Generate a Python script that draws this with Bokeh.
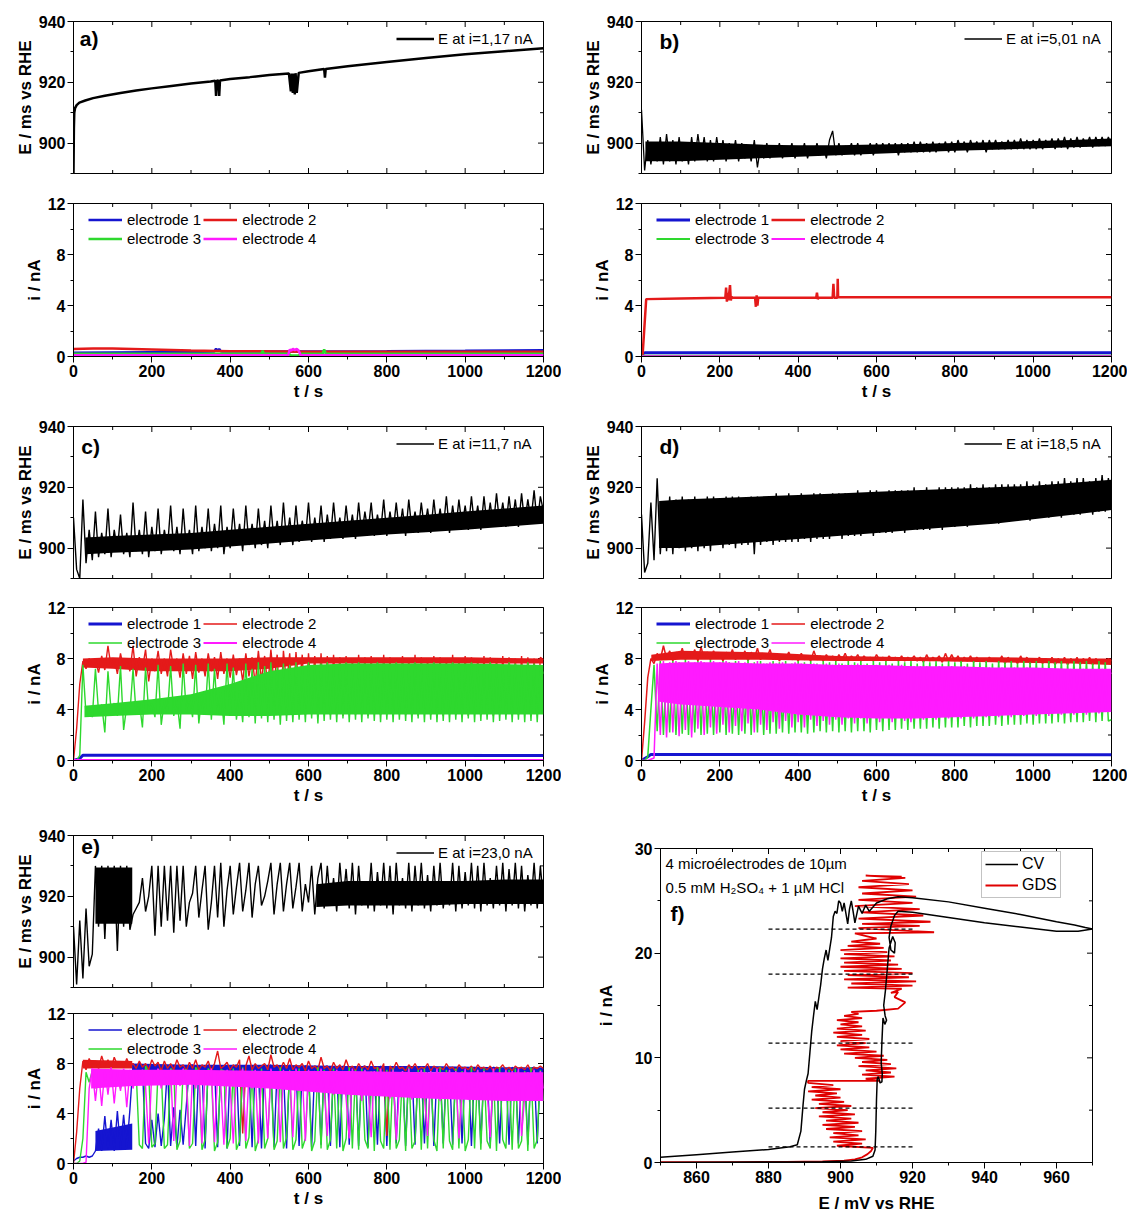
from math import pi
from bokeh.plotting import figure
from bokeh.models import Range1d, SingleIntervalTicker, Legend, LegendItem, Label
from bokeh.layouts import column, row
from bokeh.core.properties import value
from bokeh.embed import file_html
from bokeh.resources import INLINE

FONT = "Liberation Sans"
BLUE, RED, GREEN, MAG = "#1515d0", "#e41a1a", "#2ed82e", "#ff1aff"

# ---------------- data ----------------
t_grid = list(range(0, 1201, 8))  # sampling times (s) of the dense traces

a_t = [0, 1, 2, 4, 8, 15, 30, 50, 80, 120, 160, 200, 250, 300, 350, 362, 364, 366, 370, 372, 374, 378,
       400, 450, 500, 550, 555, 557, 560, 562, 565, 567, 570, 575, 600, 640, 642, 644, 700, 800, 900,
       1000, 1100, 1200]
a_E = [890, 905, 910, 911.5, 912.5, 913.3, 914, 914.8, 915.6, 916.5, 917.3, 918, 918.8, 919.6, 920.3,
       920.5, 915.5, 920.5, 920.6, 915.5, 920.6, 920.7, 921.1, 921.7, 922.4, 922.9, 917, 922.9, 916.5,
       922.9, 916, 923, 916.5, 923.1, 923.6, 924.4, 921.5, 924.4, 925.3, 926.7, 928, 929.2, 930.2, 931.2]
a_red_t = [0, 50, 100, 200, 300, 400, 600, 800, 1000, 1200]
a_red = [0.58, 0.62, 0.62, 0.55, 0.48, 0.42, 0.38, 0.38, 0.38, 0.38]
a_blue_t = [0, 100, 300, 360, 364, 368, 372, 376, 380, 500, 800, 1000, 1200]
a_blue = [0.3, 0.32, 0.35, 0.4, 0.62, 0.42, 0.6, 0.42, 0.4, 0.4, 0.42, 0.45, 0.5]
a_green_t = [0, 480, 483, 486, 550, 555, 575, 580, 636, 640, 644, 1200]
a_green = [0.22, 0.22, 0.45, 0.22, 0.22, 0.08, 0.08, 0.22, 0.22, 0.55, 0.22, 0.22]
a_mag_t = [0, 548, 552, 556, 560, 565, 570, 575, 580, 1200]
a_mag = [0.1, 0.1, 0.55, 0.45, 0.6, 0.5, 0.6, 0.45, 0.1, 0.1]

b_E = [911, 891, 901, 893, 900, 894, 902, 893, 903, 894,
       901, 893, 902, 894, 900, 893, 902, 894, 903, 895,
       902, 894, 901, 894, 902, 895, 901, 894, 900, 895,
       901, 894, 900, 895, 899, 894, 901, 892, 899, 895,
       900, 895, 899, 896, 900, 895, 899, 896, 900, 895,
       899, 896, 900, 895, 899, 896, 900, 896, 899, 895,
       901, 904, 896, 900, 896, 899, 897, 900, 896, 900,
       896, 899, 897, 900, 896, 900, 897, 900, 897, 900,
       897, 900, 896, 900, 897, 900, 897, 900.5, 897, 900.5,
       897, 900, 897, 900.5, 897, 900, 898, 900.5, 897, 900.5,
       897, 901, 898, 900.5, 897, 901, 898, 900.5, 898, 901,
       897, 901, 898, 901, 898, 900.5, 898, 901, 898, 901,
       898, 901.5, 898, 901, 898, 901, 898, 901.5, 898, 901,
       898.5, 901.5, 898, 901.5, 898.5, 902, 898, 901.5, 898.5, 902,
       898.5, 901.5, 899, 902, 898.5, 902, 899, 902, 899, 902,
       899.5]
# dense core of the E band (read as lower / upper edge of the solid black region)
b_core_t = [10, 100, 200, 300, 400, 500, 600, 700, 800, 900, 1000, 1100, 1200]
b_core_lo = [894, 894, 894.5, 895, 895.5, 896, 896.5, 897, 897.5, 897.8, 898.2, 898.6, 899]
b_core_hi = [900.5, 900.5, 900, 899.5, 899.3, 899.3, 899.5, 899.7, 900, 900.3, 900.7, 901, 901.5]
b_red_t = [0, 3, 12, 100, 214, 216, 218, 220, 222, 226, 228, 230, 232, 290, 292, 294, 296, 298, 446, 448,
           450, 452, 488, 490, 492, 500, 501, 502, 600, 1200]
b_red = [0, 0.2, 4.5, 4.55, 4.6, 5.4, 4.3, 5.0, 4.4, 5.6, 4.4, 4.7, 4.6, 4.6, 3.9, 4.8, 4.0, 4.6, 4.6, 5.0,
         4.5, 4.6, 4.6, 5.7, 4.6, 4.6, 6.1, 4.65, 4.65, 4.65]
b_blue_t = [0, 10, 1200]
b_blue = [0.2, 0.3, 0.3]
b_green_t = [0, 1200]
b_green = [0.05, 0.05]
b_mag_t = [0, 1200]
b_mag = [0.02, 0.02]

c_E = [910, 893, 890, 916, 895, 906, 896, 912, 897, 905,
       898, 913, 897, 906, 899, 911, 898, 905, 897, 915,
       899, 906, 898, 912, 897, 907, 899, 913, 898, 906,
       900, 914, 899, 907, 898, 913, 900, 906, 898, 914,
       899, 907, 900, 913, 899, 908, 900, 914, 898, 907,
       900, 913, 901, 908, 899, 914, 901, 908, 900, 913,
       901, 909, 900, 914, 902, 909, 901, 915, 902, 910,
       901, 914, 902, 909, 903, 915, 902, 910, 903, 914,
       902, 911, 903, 915, 904, 910, 903, 914, 904, 911,
       903, 915, 904, 912, 905, 915, 904, 911, 905, 916,
       904, 912, 905, 915, 905, 913, 904, 916, 906, 912,
       905, 915, 906, 913, 905, 916, 906, 913, 906, 917,
       905, 914, 906, 916, 907, 914, 906, 917, 907, 914,
       906, 917, 907, 915, 907, 918, 908, 915, 907, 917,
       908, 916, 907, 918, 908, 916, 909, 919, 908, 917,
       912]
c_core_t = [30, 100, 200, 300, 400, 500, 600, 700, 800, 900, 1000, 1100, 1200]
c_core_lo = [898, 898.5, 899, 899.5, 900.5, 901.5, 902.5, 903.5, 904.5, 905.2, 906, 907, 908]
c_core_hi = [903.5, 904, 904.5, 905, 906, 907, 908, 909, 910, 911, 912, 913, 914]
c_red = [0, 2.5, 6, 7.8, 7.2, 8.0, 7.4, 7.9, 6.9, 8.2,
         7.1, 9.0, 7.3, 8.0, 6.8, 8.4, 7.2, 8.0, 7.0, 9.0,
         6.6, 8.1, 7.2, 8.7, 6.2, 8.0, 7.0, 8.6, 6.8, 8.0,
         6.6, 8.7, 7.1, 8.0, 6.5, 8.4, 6.8, 8.2, 6.4, 8.5,
         6.9, 8.0, 6.6, 8.4, 7.0, 8.1, 6.4, 8.5, 6.8, 8.0,
         6.5, 8.3, 6.7, 8.0, 6.2, 8.4, 6.6, 8.1, 6.0, 8.6,
         6.3, 8.2, 5.8, 8.7, 6.1, 8.3, 3.6, 8.6, 6.0, 8.4,
         3.8, 8.5, 5.5, 8.3, 3.6, 8.4, 5.0, 8.2, 3.5, 8.4,
         4.0, 8.2, 3.6, 8.3, 4.5, 8.1, 3.5, 8.2, 3.8, 8.0,
         3.6, 8.3, 4.2, 8.1, 3.5, 8.2, 3.8, 8.0, 3.6, 8.3,
         3.9, 8.1, 3.5, 8.0, 3.7, 8.2, 3.6, 8.0, 3.9, 8.3,
         3.5, 8.1, 3.8, 8.0, 3.6, 8.2, 4.0, 8.1, 3.5, 8.0,
         3.7, 8.3, 3.6, 8.0, 3.9, 8.2, 3.5, 8.1, 3.8, 8.0,
         3.6, 8.2, 3.7, 8.1, 3.5, 8.0, 3.9, 8.2, 3.6, 8.1,
         3.8, 8.0, 3.6, 8.2, 3.7, 8.1, 3.5, 8.0, 3.8, 8.1,
         7.9]
c_red_core_t = [24, 100, 200, 300, 400, 500, 600, 800, 1000, 1200]
c_red_core_lo = [7.3, 7.2, 7.0, 7.0, 7.0, 7.2, 7.6, 7.6, 7.6, 7.6]
c_red_core_hi = [8.0, 8.1, 8.0, 8.0, 8.0, 8.1, 8.1, 8.1, 8.1, 8.0]
c_green = [0, 0, 0.4, 7.5, 3.6, 4.2, 3.4, 7.2, 3.8, 4.4,
           2.2, 7.0, 3.9, 4.5, 3.5, 7.4, 2.4, 4.3, 3.7, 7.2,
           3.6, 4.6, 2.6, 7.3, 3.8, 4.5, 3.4, 7.5, 2.8, 4.7,
           3.8, 7.4, 3.5, 4.8, 2.5, 7.6, 3.8, 5.0, 3.4, 7.5,
           2.9, 5.2, 3.6, 7.6, 3.2, 7.2, 3.6, 5.4, 2.8, 7.6,
           3.5, 7.3, 3.2, 5.5, 3.0, 7.6, 3.4, 7.2, 2.9, 7.7,
           3.3, 7.4, 3.0, 7.7, 3.2, 7.3, 2.8, 7.6, 3.1, 7.5,
           3.0, 7.7, 3.2, 7.4, 3.0, 7.7, 3.3, 7.5, 2.9, 7.6,
           3.1, 7.7, 3.2, 7.5, 3.0, 7.6, 3.3, 7.7, 3.0, 7.5,
           3.2, 7.7, 3.0, 7.6, 3.3, 7.5, 3.1, 7.7, 3.0, 7.6,
           3.2, 7.5, 3.0, 7.7, 3.2, 7.6, 3.1, 7.5, 3.0, 7.7,
           3.3, 7.6, 3.0, 7.5, 3.2, 7.7, 3.0, 7.6, 3.1, 7.5,
           3.0, 7.7, 3.2, 7.6, 3.0, 7.5, 3.3, 7.7, 3.0, 7.6,
           3.1, 7.5, 3.2, 7.7, 3.0, 7.6, 3.1, 7.5, 3.2, 7.7,
           3.0, 7.6, 3.2, 7.5, 3.0, 7.7, 3.1, 7.6, 3.0, 7.5,
           6.8]
c_green_core_t = [28, 100, 200, 300, 400, 500, 600, 700, 800, 1000, 1200]
c_green_core_lo = [3.4, 3.5, 3.6, 3.6, 3.5, 3.5, 3.6, 3.6, 3.6, 3.6, 3.6]
c_green_core_hi = [4.3, 4.5, 4.8, 5.2, 6.0, 7.0, 7.5, 7.6, 7.6, 7.6, 7.5]
c_blue_t = [0, 16, 24, 1200]
c_blue = [0, 0.15, 0.42, 0.4]
c_mag_t = [0, 1200]
c_mag = [0.03, 0.03]

d_E = [911, 892, 895, 915, 896, 923, 898, 915, 899, 917,
       898, 916, 900, 917, 899, 916, 900, 917, 899, 916,
       900, 917, 899, 917, 901, 916, 900, 917, 901, 917,
       900, 917, 901, 916, 901, 917, 898, 917, 901, 916,
       902, 917, 901, 918, 902, 917, 902, 918, 902, 917,
       902, 918, 903, 917, 902, 918, 903, 918, 903, 917,
       903, 918, 904, 918, 903, 918, 904, 918, 904, 919,
       904, 918, 905, 919, 904, 919, 905, 918, 905, 919,
       905, 919, 906, 919, 905, 919, 906, 920, 906, 919,
       906, 920, 906, 919, 907, 920, 906, 920, 907, 920,
       907, 920, 908, 920, 907, 921, 908, 920, 908, 921,
       908, 920, 909, 921, 908, 921, 909, 921, 909, 921,
       909, 921, 910, 922, 909, 921, 910, 922, 910, 921,
       910, 922, 911, 922, 910, 923, 911, 922, 911, 923,
       911, 923, 912, 922, 911, 923, 912, 924, 912, 923,
       914]
d_core_t = [45, 100, 200, 300, 400, 500, 600, 700, 800, 900, 1000, 1100, 1200]
d_core_lo = [900, 900, 901, 902, 903, 904, 905, 906, 907, 908, 909.5, 911, 912.5]
d_core_hi = [915.5, 916, 916.5, 917, 917.5, 918, 918.5, 919, 919.5, 920, 920.5, 921.5, 922.5]
d_red = [0, 3.0, 6.5, 8.0, 7.6, 8.4, 7.9, 9.0, 8.0, 8.6,
         7.8, 8.5, 8.0, 8.8, 7.9, 8.4, 8.1, 8.7, 7.8, 8.9,
         8.0, 8.5, 7.9, 8.6, 8.0, 8.4, 7.8, 8.5, 8.0, 8.7,
         7.9, 8.4, 8.0, 8.6, 7.8, 8.5, 8.0, 8.8, 7.9, 8.4,
         8.0, 8.7, 7.9, 8.4, 7.8, 8.3, 8.0, 8.5, 7.9, 8.3,
         7.8, 8.4, 7.9, 8.2, 7.8, 8.6, 7.9, 8.2, 7.8, 8.3,
         7.9, 8.2, 7.8, 8.3, 7.9, 8.4, 7.8, 8.2, 7.9, 8.3,
         7.8, 8.2, 7.9, 8.1, 7.8, 8.3, 7.9, 8.1, 7.8, 8.2,
         7.9, 8.1, 7.8, 8.2, 7.8, 8.1, 7.9, 8.2, 7.8, 8.1,
         7.7, 8.3, 7.8, 8.1, 7.9, 8.2, 7.7, 8.4, 7.8, 8.3,
         7.8, 8.2, 7.7, 8.1, 7.8, 8.2, 7.7, 8.1, 7.8, 8.0,
         7.7, 8.1, 7.8, 8.0, 7.7, 8.2, 7.6, 8.1, 7.7, 8.0,
         7.6, 8.2, 7.7, 8.1, 7.6, 8.0, 7.7, 8.1, 7.6, 8.0,
         7.6, 8.1, 7.5, 8.0, 7.6, 8.1, 7.5, 8.0, 7.6, 8.1,
         7.5, 8.0, 7.6, 8.1, 7.5, 8.0, 7.6, 7.9, 7.5, 8.0,
         7.8]
d_red_core_t = [25, 100, 300, 500, 700, 900, 1100, 1200]
d_red_core_lo = [7.8, 7.9, 7.9, 7.8, 7.8, 7.7, 7.6, 7.5]
d_red_core_hi = [8.3, 8.6, 8.5, 8.2, 8.1, 8.1, 8.0, 8.0]
d_green = [0, 0, 0.3, 4.0, 7.5, 2.3, 7.8, 2.0, 7.6, 2.2,
           7.8, 2.0, 7.7, 2.1, 7.9, 2.0, 7.6, 2.2, 7.8, 2.0,
           7.7, 2.1, 7.9, 2.0, 7.6, 2.2, 7.8, 2.0, 7.7, 2.1,
           7.8, 2.0, 7.6, 2.1, 7.9, 2.0, 7.7, 2.2, 7.8, 2.0,
           7.6, 2.1, 7.8, 2.1, 7.7, 2.2, 7.8, 2.1, 7.6, 2.2,
           7.8, 2.2, 7.7, 2.1, 7.8, 2.2, 7.6, 2.3, 7.8, 2.2,
           7.7, 2.3, 7.8, 2.2, 7.6, 2.3, 7.8, 2.2, 7.7, 2.3,
           7.8, 2.3, 7.6, 2.2, 7.8, 2.4, 7.7, 2.3, 7.8, 2.4,
           7.6, 2.4, 7.8, 2.5, 7.7, 2.4, 7.8, 2.5, 7.6, 2.5,
           7.8, 2.5, 7.7, 2.6, 7.8, 2.5, 7.6, 2.6, 7.8, 2.6,
           7.7, 2.6, 7.8, 2.7, 7.6, 2.6, 7.8, 2.7, 7.7, 2.7,
           7.8, 2.7, 7.6, 2.8, 7.8, 2.7, 7.7, 2.8, 7.8, 2.8,
           7.6, 2.8, 7.8, 2.9, 7.7, 2.8, 7.8, 2.9, 7.6, 2.9,
           7.8, 2.9, 7.7, 3.0, 7.8, 2.9, 7.6, 3.0, 7.8, 3.0,
           7.7, 3.0, 7.8, 3.1, 7.6, 3.0, 7.8, 3.1, 7.7, 3.1,
           3.2]
d_mag = [0, 0, 0, 0.1, 0.2, 7.6, 2.0, 7.8, 1.8, 7.7,
         2.2, 7.8, 1.9, 7.6, 2.4, 7.8, 1.8, 7.7, 2.5, 7.8,
         2.0, 7.6, 2.6, 7.8, 2.1, 7.7, 2.8, 7.8, 2.2, 7.6,
         2.7, 7.8, 2.3, 7.7, 2.9, 7.6, 2.2, 7.8, 2.8, 7.6,
         2.4, 7.7, 3.0, 7.6, 2.5, 7.7, 3.1, 7.5, 2.6, 7.7,
         3.0, 7.6, 2.6, 7.5, 3.2, 7.6, 2.7, 7.5, 3.1, 7.6,
         2.8, 7.5, 3.2, 7.6, 2.8, 7.5, 3.3, 7.5, 2.9, 7.6,
         3.3, 7.5, 2.9, 7.4, 3.4, 7.5, 3.0, 7.4, 3.4, 7.5,
         3.0, 7.4, 3.5, 7.5, 3.1, 7.4, 3.0, 7.4, 3.5, 7.4,
         3.2, 7.4, 3.6, 7.3, 3.2, 7.4, 3.6, 7.3, 3.3, 7.4,
         3.6, 7.3, 3.3, 7.4, 3.7, 7.3, 3.3, 7.3, 3.7, 7.3,
         3.4, 7.3, 3.7, 7.2, 3.4, 7.3, 3.8, 7.2, 3.4, 7.3,
         3.8, 7.2, 3.5, 7.3, 3.8, 7.2, 3.5, 7.2, 3.9, 7.2,
         3.5, 7.2, 3.9, 7.2, 3.6, 7.1, 3.9, 7.2, 3.6, 7.1,
         4.0, 7.2, 3.6, 7.1, 4.0, 7.1, 3.7, 7.2, 4.0, 7.1,
         6.8]
d_mag_core_t = [45, 100, 200, 300, 400, 500, 600, 700, 800, 900, 1000, 1100, 1200]
d_mag_core_lo = [4.6, 4.4, 4.2, 4.0, 3.6, 3.4, 3.3, 3.3, 3.4, 3.5, 3.6, 3.7, 3.8]
d_mag_core_hi = [7.6, 7.7, 7.7, 7.6, 7.6, 7.5, 7.5, 7.4, 7.4, 7.3, 7.3, 7.2, 7.2]
d_blue_t = [0, 16, 24, 1200]
d_blue = [0, 0.3, 0.48, 0.45]

e_E = [910, 891, 912, 893, 916, 897, 901, 930, 910, 930,
       906, 930, 912, 930, 902, 930, 910, 930, 909, 914,
       916, 918, 926, 915, 920, 930, 907, 930, 910, 930,
       912, 930, 908, 930, 912, 930, 910, 918, 921, 930,
       913, 922, 930, 909, 918, 930, 913, 931, 910, 922,
       930, 914, 923, 931, 915, 922, 931, 913, 924, 930,
       917, 920, 925, 931, 914, 924, 931, 915, 924, 931,
       916, 923, 931, 915, 924, 918, 930, 914, 926, 931,
       916, 930, 917, 926, 915, 931, 918, 929, 916, 931,
       914, 930, 917, 925, 916, 931, 915, 928, 917, 931,
       916, 930, 914, 931, 917, 926, 916, 931, 915, 930,
       917, 931, 916, 927, 915, 930, 917, 931, 916, 925,
       917, 931, 915, 930, 916, 928, 917, 931, 916, 930,
       915, 931, 917, 926, 916, 930, 917, 931, 915, 929,
       917, 931, 916, 930, 915, 927, 917, 931, 916, 930,
       918]
e_core1_t = [56, 150]
e_core1_lo = [911, 911]
e_core1_hi = [929.5, 929.5]
e_core2_t = [620, 700, 800, 900, 1000, 1100, 1200]
e_core2_lo = [916.5, 917, 917, 917, 917.5, 917.5, 917.5]
e_core2_hi = [924, 925, 925, 925, 925, 925.5, 925.5]
e_blue = [0.2, 0.4, 0.5, 0.5, 0.6, 0.5, 0.6, 1.0, 2.8, 1.0,
          3.8, 1.1, 3.5, 1.0, 4.2, 1.1, 3.9, 1.2, 4.3, 8.0,
          7.6, 8.1, 7.7, 1.6, 1.2, 3.5, 1.3, 4.0, 1.4, 3.6,
          7.8, 1.4, 4.5, 1.3, 4.3, 1.5, 4.6, 7.8, 7.9, 1.4,
          7.8, 7.6, 1.2, 7.9, 7.7, 7.9, 1.3, 7.8, 7.6, 1.2,
          7.8, 7.7, 7.9, 1.4, 7.8, 7.6, 7.8, 1.3, 7.9, 7.7,
          1.2, 7.8, 7.6, 7.9, 1.3, 7.7, 7.8, 7.6, 1.2, 7.9,
          7.7, 7.8, 1.4, 7.6, 7.8, 7.7, 1.3, 7.8, 7.6, 1.5,
          7.7, 7.8, 1.4, 7.6, 7.7, 1.3, 7.8, 7.6, 1.5, 7.7,
          7.6, 1.4, 7.7, 7.8, 1.3, 7.6, 7.7, 1.5, 7.8, 7.6,
          1.4, 7.7, 7.6, 1.6, 7.7, 7.5, 1.4, 7.6, 7.7, 1.5,
          7.6, 7.5, 1.6, 7.7, 7.6, 1.4, 7.5, 7.7, 1.6, 7.6,
          7.5, 1.5, 7.6, 7.7, 1.6, 7.5, 7.6, 1.4, 7.7, 7.5,
          1.6, 7.6, 7.5, 1.5, 7.7, 7.6, 1.6, 7.5, 7.6, 1.5,
          7.7, 7.5, 1.6, 7.6, 7.5, 1.5, 7.6, 7.7, 1.6, 7.5,
          7.5]
e_blue_core1_t = [56, 150]
e_blue_core1_lo = [1.0, 1.1]
e_blue_core1_hi = [2.6, 3.2]
e_blue_core2_t = [150, 300, 500, 700, 900, 1100, 1200]
e_blue_core2_lo = [7.4, 7.4, 7.3, 7.3, 7.3, 7.2, 7.2]
e_blue_core2_hi = [8.0, 7.9, 7.9, 7.8, 7.8, 7.7, 7.7]
e_red = [0, 2.5, 6.0, 8.2, 7.5, 8.4, 7.8, 8.2, 7.6, 8.6,
         7.8, 8.3, 7.6, 8.5, 7.9, 8.1, 7.7, 8.4, 7.8, 8.0,
         7.6, 8.2, 7.7, 8.0, 7.5, 8.3, 7.8, 8.1, 7.4, 8.2,
         7.6, 8.0, 7.5, 8.3, 7.7, 7.9, 7.4, 8.1, 7.6, 8.3,
         7.5, 7.9, 7.7, 8.2, 7.4, 8.0, 9.0, 7.6, 7.8, 8.1,
         7.5, 7.9, 7.7, 8.3, 2.4, 7.8, 8.6, 7.5, 8.0, 7.6,
         7.8, 8.0, 7.5, 8.7, 7.7, 7.9, 7.5, 8.1, 7.6, 8.4,
         7.5, 7.9, 7.7, 8.0, 7.4, 8.2, 7.6, 7.8, 7.5, 8.5,
         7.6, 7.8, 7.4, 8.1, 7.6, 7.9, 7.5, 8.3, 7.6, 7.8,
         7.4, 8.0, 7.6, 7.8, 7.5, 8.2, 7.6, 7.7, 7.4, 8.0,
         2.2, 7.8, 7.5, 8.1, 7.6, 7.7, 7.4, 7.9, 7.6, 8.0,
         7.5, 7.7, 7.6, 8.0, 7.4, 7.8, 7.6, 7.7, 7.5, 8.0,
         7.6, 7.7, 7.4, 7.9, 7.6, 7.7, 7.5, 7.8, 7.4, 7.9,
         7.6, 7.7, 7.5, 7.8, 7.4, 7.7, 7.6, 7.9, 7.5, 7.7,
         7.4, 7.8, 7.6, 7.7, 7.5, 7.9, 7.4, 7.7, 7.6, 7.8,
         7.6]
e_red_core_t = [24, 150]
e_red_core_lo = [7.6, 7.6]
e_red_core_hi = [8.3, 8.2]
e_green = [0, 0, 0.2, 2.0, 7.3, 6.5, 7.4, 6.0, 7.5, 6.4,
           7.3, 6.2, 7.4, 6.6, 7.2, 6.0, 7.5, 6.3, 7.4, 6.8,
           7.3, 1.5, 1.2, 7.8, 7.2, 1.3, 1.6, 7.5, 7.4, 1.2,
           1.5, 7.6, 7.3, 1.1, 1.8, 7.4, 7.5, 1.2, 1.6, 7.7,
           7.3, 1.1, 1.9, 7.6, 7.2, 1.0, 1.7, 7.5, 7.4, 1.2,
           2.0, 7.6, 1.1, 1.8, 7.7, 1.2, 2.1, 7.5, 1.0, 1.9,
           7.6, 1.2, 2.0, 7.4, 1.1, 1.8, 7.7, 1.2, 2.1, 7.5,
           1.1, 1.9, 7.6, 1.2, 2.0, 7.4, 1.0, 1.8, 7.7, 1.2,
           7.5, 1.1, 1.9, 7.6, 1.2, 7.4, 1.0, 2.0, 7.7, 1.2,
           7.5, 1.1, 7.6, 1.9, 1.2, 7.4, 1.0, 7.7, 1.8, 1.2,
           7.5, 1.1, 7.6, 1.2, 1.9, 7.4, 1.0, 7.7, 1.2, 1.8,
           7.5, 1.1, 7.6, 1.2, 7.4, 1.9, 1.0, 7.7, 1.2, 7.5,
           1.8, 1.1, 7.6, 1.2, 7.4, 1.0, 1.9, 7.7, 1.2, 7.5,
           1.1, 7.6, 1.8, 1.2, 7.4, 1.0, 7.7, 1.9, 1.2, 7.5,
           1.1, 7.6, 1.2, 1.8, 7.4, 1.0, 7.7, 1.2, 1.9, 7.5,
           5.0]
e_mag = [0, 0, 0, 0, 0.1, 6.0, 7.6, 5.0, 7.4, 4.6,
         7.5, 5.5, 7.7, 4.8, 7.4, 5.8, 7.6, 4.5, 7.5, 6.0,
         7.3, 6.6, 7.5, 6.2, 1.6, 7.4, 6.5, 7.6, 6.0, 7.3,
         6.4, 7.5, 1.8, 7.4, 6.2, 7.6, 6.5, 1.4, 7.3, 6.0,
         7.5, 1.6, 7.4, 6.3, 7.6, 1.7, 7.3, 6.4, 1.5, 7.5,
         6.2, 1.6, 7.4, 6.5, 7.6, 1.8, 7.3, 6.0, 7.5, 1.6,
         7.4, 6.4, 2.0, 7.6, 6.2, 7.3, 1.7, 7.5, 6.1, 7.4,
         2.1, 7.6, 6.0, 7.3, 1.8, 7.5, 6.3, 7.4, 5.8, 7.6,
         6.0, 2.2, 7.3, 5.5, 7.5, 6.2, 7.4, 5.2, 2.0, 7.6,
         5.8, 7.3, 5.0, 7.5, 6.1, 2.1, 7.4, 5.4, 7.6, 5.9,
         7.3, 5.2, 7.5, 1.9, 6.0, 7.4, 5.5, 7.6, 5.1, 7.3,
         6.2, 7.5, 5.3, 2.2, 7.4, 5.8, 7.6, 5.0, 7.3, 6.0,
         7.5, 5.4, 7.4, 2.0, 5.7, 7.6, 5.1, 7.3, 6.1, 7.5,
         5.2, 7.4, 5.9, 2.1, 7.6, 5.3, 7.3, 6.0, 7.5, 5.0,
         7.4, 5.8, 7.6, 2.2, 5.4, 7.3, 6.2, 7.5, 5.1, 7.4,
         6.0]
e_mag_core_t = [45, 150, 300, 500, 700, 900, 1100, 1200]
e_mag_core_lo = [6.0, 6.2, 6.3, 6.0, 5.5, 5.2, 5.0, 5.0]
e_mag_core_hi = [7.6, 7.5, 7.5, 7.4, 7.4, 7.3, 7.3, 7.3]

cv_E = [850, 860, 870, 880, 886, 888, 889, 889.6, 890, 890.5,
        891, 891.5, 892, 892.5, 893, 893.5, 894, 894.5, 895, 895.5,
        896, 896.5, 897, 897.5, 898, 898.5, 899, 899.5, 900, 900.5,
        901, 901.5, 902, 902.5, 903, 903.5, 904, 905, 906, 907,
        908, 910, 913, 916, 920, 930, 940, 950, 960, 965,
        968, 970, 966, 960, 950, 940, 930, 920, 916, 915,
        914, 913.5, 914, 915, 915.2, 914.5, 913.5, 913, 912.5, 912,
        912.4, 912.8, 912.3, 911.8, 911.5, 911.3, 911.6, 911.5, 911, 910.5,
        910.2, 910, 909.8, 909.6, 909, 907, 903, 895, 880, 865,
        850]
cv_i = [0.5, 0.75, 1.0, 1.25, 1.5, 1.7, 3.0, 5.5, 7.0, 7.8,
        8.5, 10.5, 12.5, 14.0, 15.4, 14.6, 15.8, 17.0, 18.5, 19.5,
        20.3, 19.3, 20.4, 21.5, 23.5, 24.0, 23.8, 25.0, 24.8, 24.0,
        24.8, 23.8, 22.8, 24.2, 25.0, 24.0, 22.9, 24.5, 23.8, 24.6,
        24.0, 24.8, 25.2, 25.4, 25.3, 24.9, 24.3, 23.7, 23.0, 22.7,
        22.45, 22.3, 22.1, 22.1, 22.5, 22.9, 23.4, 23.9, 24.0, 23.6,
        22.6, 21.5, 20.3, 20.0, 21.0, 21.6, 20.5, 18.5, 16.5, 15.0,
        14.0, 13.6, 13.2, 13.8, 11.5, 9.5, 8.5, 7.7, 7.6, 8.2,
        8.0, 6.0, 3.0, 1.2, 0.6, 0.3, 0.15, 0.08, 0.04, 0.02,
        0.0]

gds_E = [850, 870, 885, 895, 901, 904, 906, 907.5, 908.5, 909,
         899, 906, 898, 907, 897, 905, 898, 906, 896, 904,
         895, 905, 896, 903, 894, 904, 895, 902, 893, 903,
         894, 901, 892, 900, 893, 899, 891, 900, 892, 898,
         891, 891, 911, 907, 915, 906, 914, 907, 915.5, 905,
         914, 906, 913, 904, 912, 901, 910, 900, 908, 899,
         907, 900, 908, 899, 906, 898, 907, 899, 906, 900,
         905, 899, 906, 901, 905, 903, 910, 916, 918, 915,
         916, 914, 917, 902, 920, 903, 921, 901, 919, 902,
         920, 901, 917, 900, 916, 901, 914, 900, 915, 901,
         913, 900, 912, 902, 911, 903, 910, 904, 926, 920,
         905, 922, 906, 925, 905, 923, 906, 922, 904, 920,
         905, 921, 906, 920, 905, 919, 906, 918, 907, 917]
gds_i = [0.03, 0.04, 0.06, 0.1, 0.18, 0.3, 0.5, 0.8, 1.1, 1.4,
         1.6, 1.8, 2.0, 2.2, 2.4, 2.6, 2.8, 3.0, 3.2, 3.4,
         3.6, 3.8, 4.0, 4.2, 4.4, 4.6, 4.8, 5.0, 5.2, 5.4,
         5.6, 5.8, 6.0, 6.2, 6.4, 6.6, 6.8, 7.0, 7.2, 7.4,
         7.6, 7.8, 7.8, 8.0, 8.2, 8.4, 8.6, 8.8, 9.0, 9.2,
         9.4, 9.6, 9.8, 10.0, 10.2, 10.4, 10.6, 10.8, 11.0, 11.2,
         11.4, 11.6, 11.8, 12.0, 12.2, 12.4, 12.6, 12.8, 13.0, 13.2,
         13.4, 13.6, 13.8, 14.0, 14.2, 14.4, 14.5, 14.7, 15.3, 15.8,
         16.3, 16.2, 16.6, 16.7, 16.9, 17.1, 17.3, 17.5, 17.7, 17.9,
         18.1, 18.3, 18.5, 18.7, 18.9, 19.1, 19.3, 19.5, 19.7, 19.9,
         20.1, 20.3, 20.5, 20.7, 20.9, 21.1, 21.4, 21.9, 22.0, 22.1,
         22.4, 22.6, 22.8, 23.0, 23.3, 23.6, 23.9, 24.2, 24.5, 24.8,
         25.1, 25.4, 25.7, 26.0, 26.3, 26.6, 26.9, 27.2, 27.4, 27.3]
dash_i = [1.5, 5.2, 11.4, 18.0, 22.3]
dash_E = [880, 920]

E_labels = ["E at i=1,17 nA", "E at i=5,01 nA", "E at i=11,7 nA", "E at i=18,5 nA", "E at i=23,0 nA"]
electrode_labels = ["electrode 1", "electrode 2", "electrode 3", "electrode 4"]


# ---------------- helpers ----------------
def tick_values(lo, hi, step):
    major = [v for v in range(int(lo), int(hi) + 1) if v % step == 0]
    minor = [v for v in range(int(lo), int(hi) + 1) if v % (step // 2) == 0 and v % step != 0]
    return major, minor


def inner_ticks(p, xr, yr, xint, yint, bottom=False):
    """mirror ticks pointing into the frame (half of a centred dash is clipped by the frame)"""
    xmaj, xmin = tick_values(xr[0], xr[1], xint)
    ymaj, ymin = tick_values(yr[0], yr[1], yint)
    xedges = [yr[1]] + ([yr[0]] if bottom else [])
    for ye in xedges:
        for vals, size in ((xmaj, 11), (xmin, 7)):
            p.scatter(x=vals, y=[ye] * len(vals), marker="dash", angle=pi / 2, size=size,
                      line_color="black", line_width=1)
    for vals, size in ((ymaj, 11), (ymin, 7)):
        p.scatter(x=[xr[1]] * len(vals), y=vals, marker="dash", size=size,
                  line_color="black", line_width=1)


def base_fig(xr, yr, fw, fh, bl, br, bt, bb, xint, yint, show_x, xlabel, ylabel,
             ylab_standoff=1, xlab_standoff=2):
    p = figure(x_range=Range1d(*xr), y_range=Range1d(*yr), frame_width=fw, frame_height=fh,
               min_border_left=bl, min_border_right=br, min_border_top=bt, min_border_bottom=bb,
               output_backend="svg", toolbar_location=None)
    p.grid.visible = False
    p.outline_line_color = "black"
    p.outline_line_width = 1
    p.background_fill_color = "white"
    p.border_fill_color = "white"
    xt = SingleIntervalTicker(interval=xint, num_minor_ticks=2)
    yt = SingleIntervalTicker(interval=yint, num_minor_ticks=2)
    bx = p.xaxis[0]
    ly = p.yaxis[0]
    bx.ticker = xt
    ly.ticker = yt
    for ax in (bx, ly):
        ax.axis_line_color = "black"
        ax.major_tick_line_color = "black"
        ax.minor_tick_line_color = "black"
        ax.major_label_text_font = FONT
        ax.major_label_text_font_style = "bold"
        ax.major_label_text_font_size = "16px"
        ax.major_label_text_color = "black"
        ax.axis_label_text_font = FONT
        ax.axis_label_text_font_style = "bold"
        ax.axis_label_text_font_size = "17px"
        ax.axis_label_text_color = "black"
        ax.major_tick_out = 6
        ax.major_tick_in = 0
        ax.minor_tick_out = 3
        ax.minor_tick_in = 0
        ax.major_label_standoff = 2
    ly.axis_label = ylabel
    ly.axis_label_standoff = ylab_standoff
    if show_x:
        bx.axis_label = xlabel
        bx.axis_label_standoff = xlab_standoff
    else:
        bx.visible = False
    inner_ticks(p, xr, yr, xint, yint, bottom=not show_x)
    return p


def e_panel(t, E, lw, label, tag, tag_x, tag_y, cores, bl, br, bt, bb):
    p = base_fig((0, 1200), (890, 940), 470, 152, bl, br, bt, bb, 200, 20, False, "", "E / ms vs RHE")
    for (ct, lo, hi) in cores:
        p.varea(x=ct, y1=lo, y2=hi, fill_color="black")
    r = p.line(t, E, line_color="black", line_width=lw)
    leg = Legend(items=[LegendItem(label=value(label), renderers=[r])], location=(319, 122.5),
                 glyph_width=38, glyph_height=17, label_height=17, label_standoff=4, padding=4,
                 spacing=0, border_line_alpha=0, background_fill_alpha=0,
                 label_text_font=FONT, label_text_font_size="15px", label_text_color="black")
    p.add_layout(leg)
    p.add_layout(Label(x=tag_x, y=tag_y, text=tag, text_font=FONT, text_font_style="bold",
                       text_font_size="21px", text_baseline="middle", text_color="black"))
    return p


def i_panel(series, fh, bl, br, bt, bb):
    p = base_fig((0, 1200), (0, 12), 470, fh, bl, br, bt, bb, 200, 4, True, "t / s", "i / nA")
    rs = []
    for (t, v, c, w, cores) in series:
        for (ct, lo, hi) in cores:
            p.varea(x=ct, y1=lo, y2=hi, fill_color=c)
        rs.append(p.line(t, v, line_color=c, line_width=w))
    items = [LegendItem(label=value(electrode_labels[k]), renderers=[rs[k]]) for k in range(4)]
    leg = Legend(items=items, location=(11, fh - 3.5 - 44), orientation="horizontal", ncols=2,
                 glyph_width=34, glyph_height=17, label_height=17, label_standoff=5, padding=4,
                 spacing=2, border_line_alpha=0, background_fill_alpha=0,
                 label_text_font=FONT, label_text_font_size="15px", label_text_color="black")
    p.add_layout(leg)
    return p


L = dict(bl=73, br=18)
R = dict(bl=80, br=16)

aE = e_panel(a_t, a_E, 2.5, E_labels[0], "a)", 16, 934.5, [], bt=21, bb=15, **L)
ai = i_panel([(a_blue_t, a_blue, BLUE, 2.5, []), (a_red_t, a_red, RED, 2.5, []),
              (a_green_t, a_green, GREEN, 2.5, []), (a_mag_t, a_mag, MAG, 2.5, [])],
             153, bt=15, bb=48, **L)
bE = e_panel(t_grid, b_E, 1.3, E_labels[1], "b)", 46, 933.5,
             [(b_core_t, b_core_lo, b_core_hi)], bt=21, bb=15, **R)
bi = i_panel([(b_blue_t, b_blue, BLUE, 3, []), (b_red_t, b_red, RED, 2.5, []),
              (b_green_t, b_green, GREEN, 2, []), (b_mag_t, b_mag, MAG, 2, [])],
             153, bt=15, bb=48, **R)

cE = e_panel(t_grid, c_E, 1.4, E_labels[2], "c)", 20, 933.5,
             [(c_core_t, c_core_lo, c_core_hi)], bt=22, bb=14, **L)
ci = i_panel([(c_blue_t, c_blue, BLUE, 3, []),
              (t_grid, c_red, RED, 1.4, [(c_red_core_t, c_red_core_lo, c_red_core_hi)]),
              (t_grid, c_green, GREEN, 1.4, [(c_green_core_t, c_green_core_lo, c_green_core_hi)]),
              (c_mag_t, c_mag, MAG, 2, [])], 153, bt=15, bb=48, **L)
dE = e_panel(t_grid, d_E, 1.4, E_labels[3], "d)", 46, 933.5,
             [(d_core_t, d_core_lo, d_core_hi)], bt=22, bb=14, **R)
di = i_panel([(d_blue_t, d_blue, BLUE, 3, []),
              (t_grid, d_red, RED, 1.5, [(d_red_core_t, d_red_core_lo, d_red_core_hi)]),
              (t_grid, d_green, GREEN, 1.5, []),
              (t_grid, d_mag, MAG, 1.5, [(d_mag_core_t, d_mag_core_lo, d_mag_core_hi)])],
             153, bt=15, bb=48, **R)

eE = e_panel(t_grid, e_E, 1.4, E_labels[4], "e)", 20, 936.5,
             [(e_core1_t, e_core1_lo, e_core1_hi), (e_core2_t, e_core2_lo, e_core2_hi)],
             bt=27, bb=13, **L)
ei = i_panel([(t_grid, e_blue, BLUE, 1.4, [(e_blue_core1_t, e_blue_core1_lo, e_blue_core1_hi),
                                            (e_blue_core2_t, e_blue_core2_lo, e_blue_core2_hi)]),
              (t_grid, e_red, RED, 1.4, [(e_red_core_t, e_red_core_lo, e_red_core_hi)]),
              (t_grid, e_green, GREEN, 1.4, []),
              (t_grid, e_mag, MAG, 1.4, [(e_mag_core_t, e_mag_core_lo, e_mag_core_hi)])],
             150, bt=13, bb=48, **L)

# panel f
f = base_fig((850, 970), (0, 30), 432, 314, 99, 33, 40, 48, 20, 10, True, "E / mV vs RHE", "i / nA",
             ylab_standoff=16, xlab_standoff=8)
r_gds = f.line(gds_E, gds_i, line_color="#e00000", line_width=1.8)
r_cv = f.line(cv_E, cv_i, line_color="black", line_width=1.5)
f.segment(x0=[dash_E[0]] * len(dash_i), y0=dash_i, x1=[dash_E[1]] * len(dash_i), y1=dash_i,
          line_color="black", line_width=1.2, line_dash="4 3")
fleg = Legend(items=[LegendItem(label=value("CV"), renderers=[r_cv]),
                     LegendItem(label=value("GDS"), renderers=[r_gds])],
              location=(321, 264), glyph_width=33, glyph_height=16, label_height=16, label_standoff=4,
              padding=3, spacing=3, border_line_color="#888888", border_line_width=1,
              background_fill_color="white", background_fill_alpha=1,
              label_text_font=FONT, label_text_font_size="16px", label_text_color="black")
f.add_layout(fleg)
f.add_layout(Label(x=851.4, y=28.57, text="4 microélectrodes de 10µm", text_font=FONT,
                   text_font_size="15px", text_baseline="middle", text_color="black"))
f.add_layout(Label(x=851.4, y=26.27, text="0.5 mM H\u2082SO\u2084 + 1 µM HCl", text_font=FONT,
                   text_font_size="15px", text_baseline="middle", text_color="black"))
f.add_layout(Label(x=852.8, y=23.8, text="f)", text_font=FONT, text_font_style="bold",
                   text_font_size="21px", text_baseline="middle", text_color="black"))

layout = column(row(column(aE, ai), column(bE, bi)),
                row(column(cE, ci), column(dE, di)),
                row(column(eE, ei), f))

open("out.html", "w").write(file_html(layout, INLINE, title="GDS microelectrodes"))
